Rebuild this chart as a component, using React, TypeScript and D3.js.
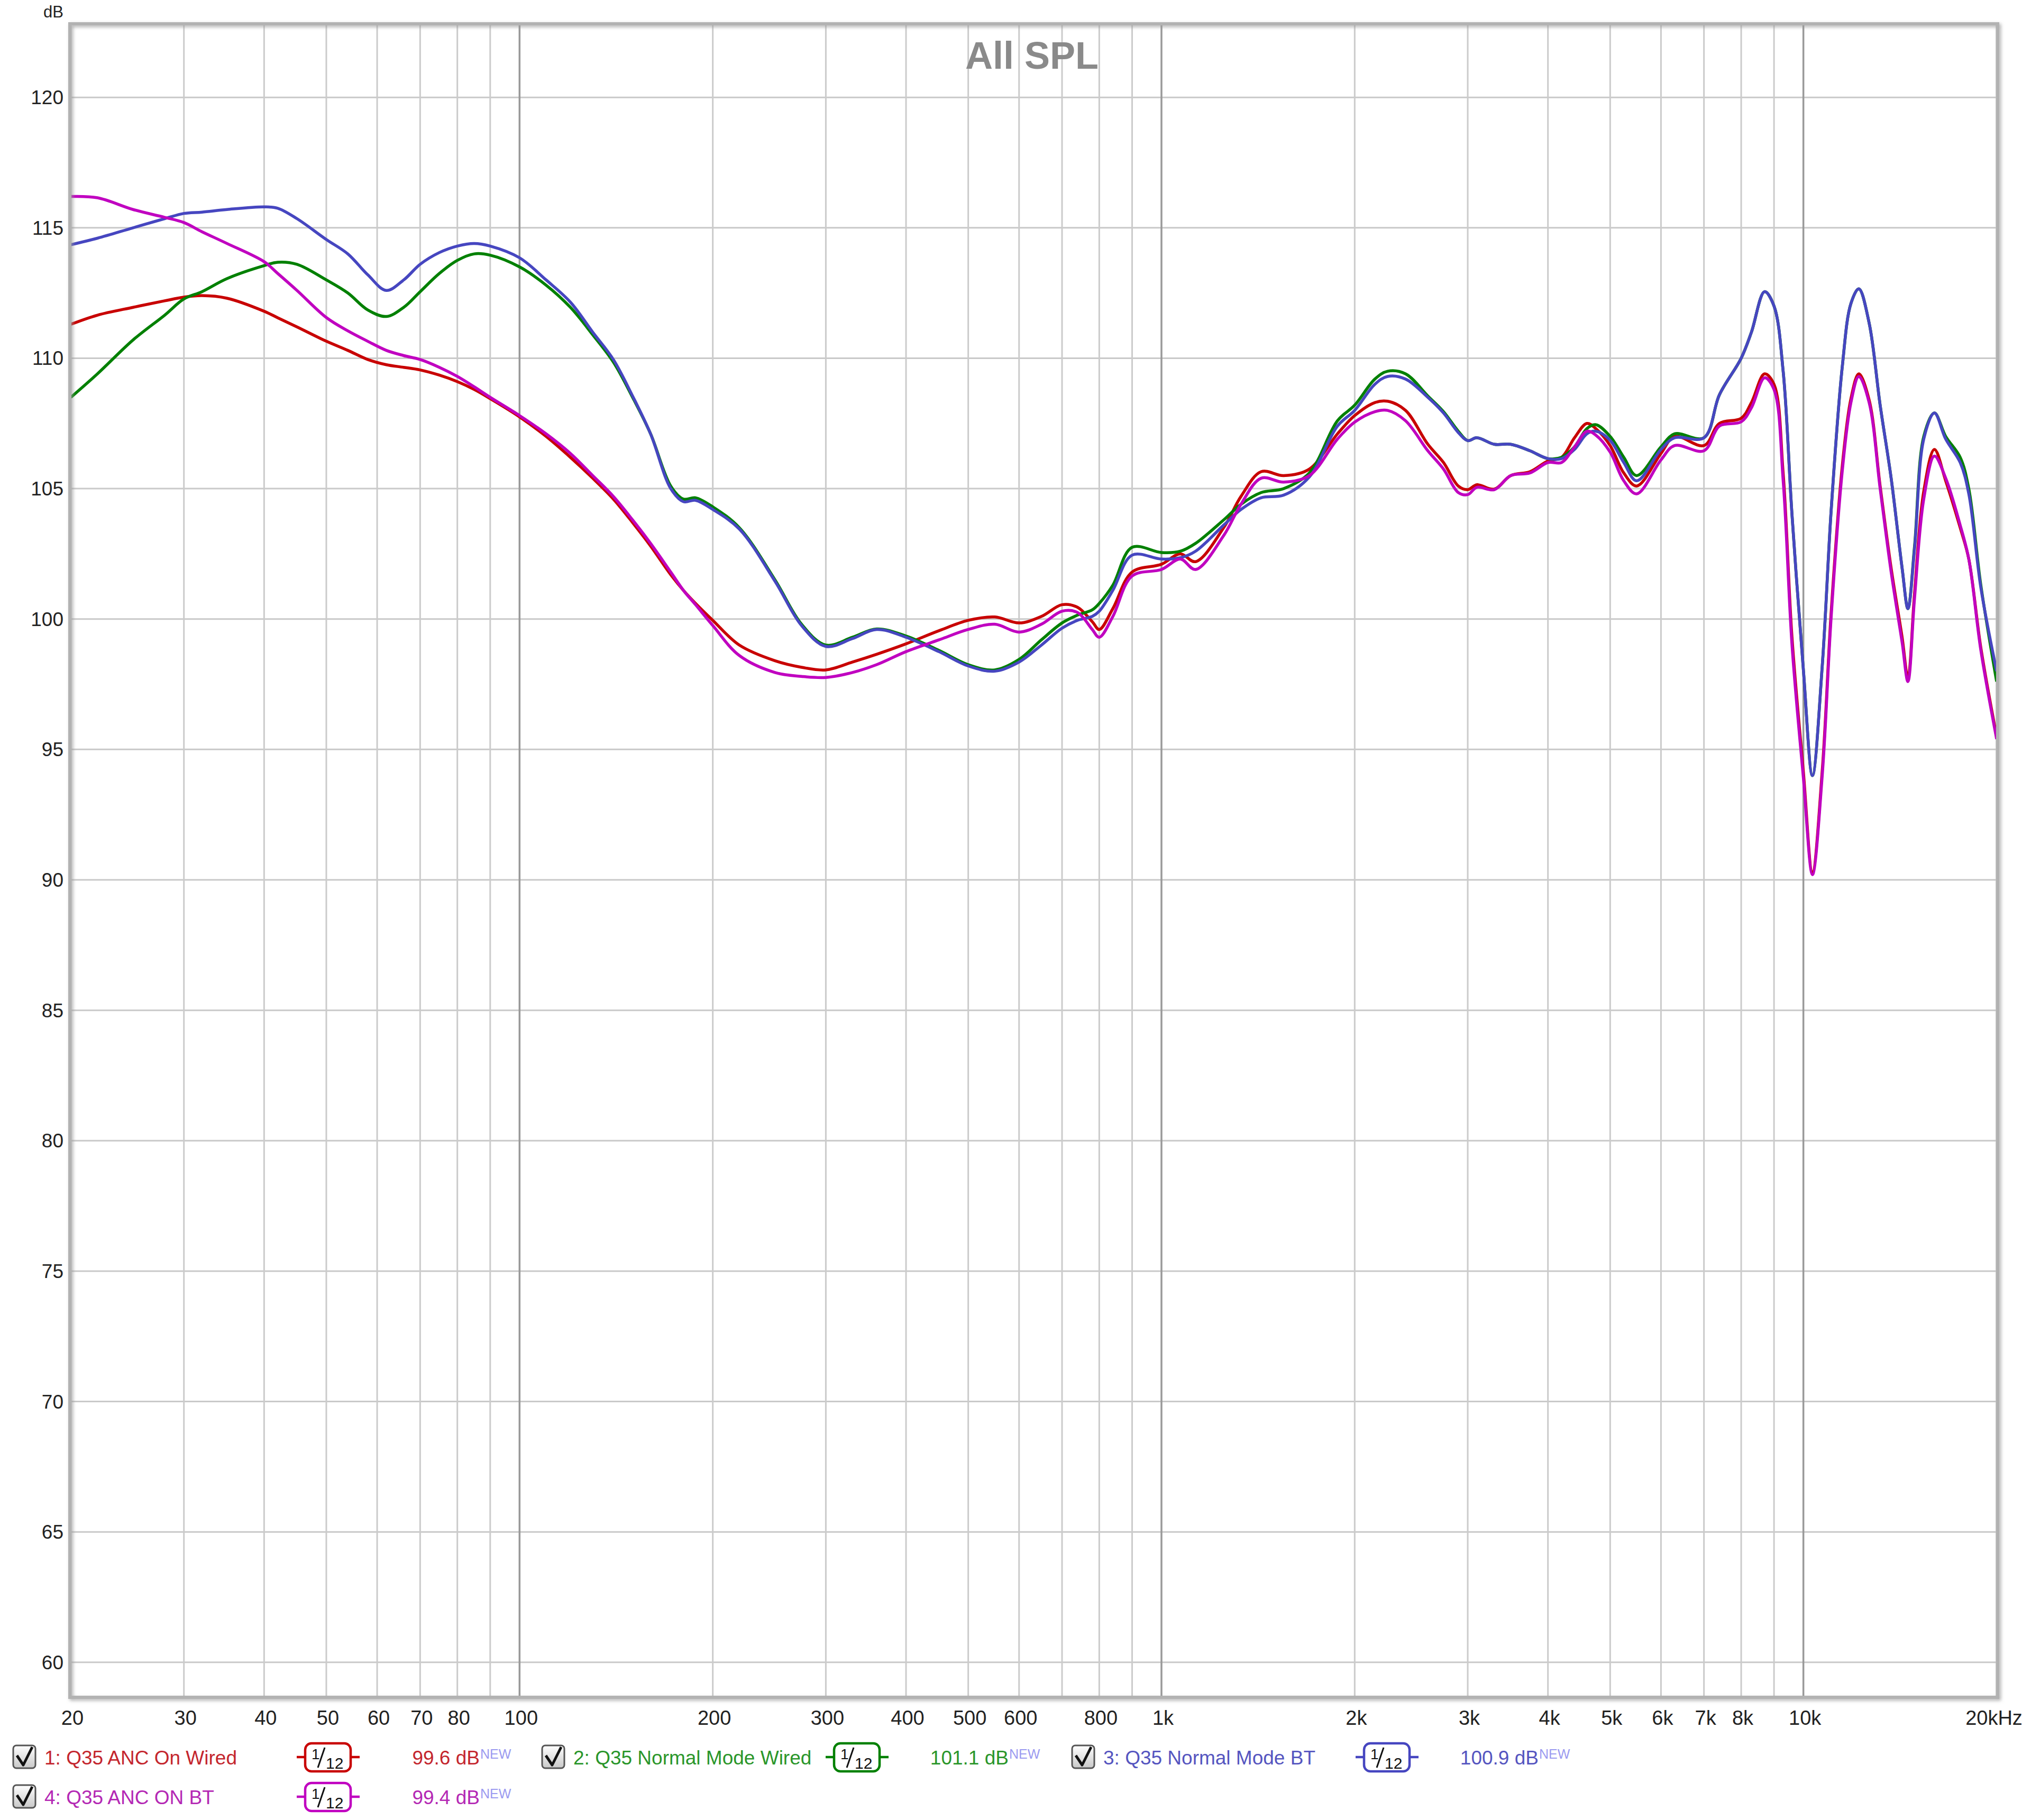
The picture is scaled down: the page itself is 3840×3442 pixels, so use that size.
import React from "react";
import * as d3 from "d3";

// ---------- DATA ----------
const freqs = [20,22,25,28,30,32,35,40,42,45,50,54,58,62,66,70,75,80,85,90,100,110,120,130,140,150,160,172,180,188,200,220,250,275,300,330,360,400,450,500,550,600,650,700,740,780,800,840,900,1000,1070,1130,1250,1330,1430,1550,1700,1880,2000,2150,2250,2400,2600,2750,2900,3000,3100,3300,3500,3750,4000,4200,4400,4600,4750,5000,5250,5500,6000,6300,7000,7400,8000,8300,8700,9000,9300,9600,10000,10330,10700,11050,11500,11860,12200,12660,13170,13700,14250,14550,14900,15400,16000,16660,17550,18100,18900,20000];

const ancOnWired = [111.3,111.65,111.95,112.2,112.34,112.4,112.3,111.8,111.55,111.2,
110.65,110.3,109.95,109.75,109.65,109.55,109.35,109.1,108.8,108.45,
107.75,107.0,106.2,105.4,104.6,103.7,102.8,101.7,101.1,100.6,
99.95,99.0,98.4,98.15,98.05,98.35,98.65,99.05,99.55,99.95,
100.08,99.85,100.1,100.55,100.45,99.9,99.6,100.4,101.8,102.1,
102.5,102.2,103.5,104.7,105.65,105.5,105.75,107.1,107.8,108.3,
108.35,108.0,106.7,106.0,105.1,104.96,105.15,104.98,105.5,105.65,
106.06,106.2,106.95,107.5,107.3,106.65,105.6,105.1,106.35,107.0,
106.65,107.5,107.7,108.3,109.4,109.0,105.6,99.3,94.14,90.3,
94.2,100.3,105.9,108.45,109.4,108.4,105.1,101.95,99.3,97.75,
101.0,104.9,106.5,105.3,103.5,102.3,98.9,95.5];

const normalWired = [108.5,109.4,110.7,111.65,112.27,112.55,113.05,113.55,113.68,113.6,
113.0,112.5,111.85,111.6,111.95,112.55,113.25,113.75,114.0,113.95,
113.5,112.8,111.95,110.9,109.85,108.5,107.1,105.1,104.6,104.65,
104.3,103.5,101.5,99.8,99.0,99.3,99.62,99.35,98.8,98.25,
98.05,98.45,99.2,99.85,100.15,100.35,100.6,101.3,102.75,102.55,
102.6,102.9,103.8,104.4,104.85,105.0,105.6,107.6,108.2,109.2,
109.5,109.4,108.55,107.95,107.2,106.84,106.95,106.7,106.7,106.45,
106.15,106.2,106.6,107.3,107.45,107.0,106.2,105.5,106.6,107.1,
106.95,108.6,110.0,111.0,112.55,112.0,109.5,104.0,98.05,94.0,
98.2,104.2,109.7,112.1,112.66,111.35,108.2,105.4,101.95,100.4,
102.8,107.0,107.9,107.0,106.2,105.0,101.3,97.6];

const normalBT = [114.35,114.6,115.0,115.35,115.55,115.6,115.7,115.8,115.75,115.35,
114.55,114.0,113.2,112.6,113.0,113.6,114.05,114.3,114.4,114.3,
113.85,113.0,112.15,111.0,109.95,108.55,107.1,105.0,104.5,104.55,
104.2,103.45,101.45,99.75,98.95,99.25,99.6,99.3,98.75,98.2,
98.0,98.35,99.0,99.65,99.95,100.1,100.3,101.1,102.45,102.3,
102.35,102.6,103.6,104.2,104.65,104.75,105.45,107.4,108.0,109.0,
109.3,109.2,108.5,107.9,107.15,106.84,106.95,106.7,106.7,106.45,
106.15,106.15,106.5,107.1,107.2,106.85,106.0,105.3,106.5,106.95,
106.95,108.6,110.0,111.0,112.55,112.0,109.5,104.0,98.05,94.0,
98.2,104.2,109.7,112.1,112.66,111.35,108.2,105.4,101.95,100.4,
102.7,106.9,107.9,106.9,106.0,104.8,101.2,98.0];

const ancOnBT = [116.2,116.15,115.7,115.4,115.2,114.85,114.4,113.7,113.25,112.6,
111.56,111.05,110.65,110.3,110.1,109.95,109.65,109.3,108.9,108.5,
107.8,107.1,106.35,105.5,104.7,103.8,102.9,101.8,101.1,100.55,
99.75,98.6,97.95,97.8,97.76,97.95,98.25,98.75,99.2,99.6,
99.8,99.5,99.8,100.3,100.25,99.6,99.3,100.1,101.65,101.9,
102.3,101.9,103.2,104.4,105.4,105.25,105.5,106.9,107.55,107.95,
108.0,107.6,106.45,105.75,104.85,104.77,105.05,104.96,105.5,105.6,
106.0,106.0,106.6,107.2,107.05,106.4,105.3,104.8,106.1,106.65,
106.45,107.4,107.56,108.1,109.25,108.8,105.3,99.0,93.9,90.2,
94.0,100.1,105.7,108.3,109.3,108.3,105.0,101.8,99.1,97.6,
100.8,104.6,106.25,105.4,103.6,102.3,98.8,95.4];

const seriesNames = ["1: Q35 ANC On Wired", "2: Q35 Normal Mode Wired", "3: Q35 Normal Mode BT", "4: Q35 ANC ON BT"];
const seriesValues = [ancOnWired, normalWired, normalBT, ancOnBT];
const seriesLevels = ["99.6 dB", "101.1 dB", "100.9 dB", "99.4 dB"];
const lineColors = ["#c80000", "#008000", "#4646c0", "#c000c0"];
const textColors = ["#c4262e", "#2a962a", "#5555c0", "#b428b4"];

const xTickValues = [20,30,40,50,60,70,80,100,200,300,400,500,600,800,1000,2000,3000,4000,5000,6000,7000,8000,10000,20000];
const xTickLabels = ["20","30","40","50","60","70","80","100","200","300","400","500","600","800","1k","2k","3k","4k","5k","6k","7k","8k","10k","20kHz"];
const yTickValues = [60,65,70,75,80,85,90,95,100,105,110,115,120];
const title = "All SPL";
const yUnit = "dB";

// ---------- LAYOUT ----------
const W = 3840, H = 3442;
const L = 134, R = 3775, T = 47, B = 3208;
const FONT = "'Liberation Sans', Arial, Helvetica, sans-serif";

export default function App() {
  const x = d3.scaleLog().domain([20, 20000]).range([L, R]);
  const y = d3.scaleLinear().domain([58.7, 122.78]).range([B, T]);

  const gridX: number[] = [];
  [10, 100, 1000, 10000].forEach((d) => {
    for (let m = 1; m <= 9; m++) {
      const v = d * m;
      if (v >= 20 && v <= 20000) gridX.push(v);
    }
  });
  gridX.push(20000);
  const isMajor = (v: number) => v === 100 || v === 1000 || v === 10000;

  const line = d3
    .line<number>()
    .x((_, i) => x(freqs[i]))
    .y((v) => y(v))
    .curve(d3.curveCatmullRom.alpha(0.5));

  const rowY = [3323, 3398];
  const colX = [0, 1000, 2002];

  return (
    <svg
      width={W}
      height={H}
      style={{ position: "absolute", left: 0, top: 0, background: "#fff" }}
      fontFamily={FONT}
    >
      <defs>
        <clipPath id="plotClip">
          <rect x={L} y={T} width={R - L} height={B - T} />
        </clipPath>
        <filter id="frameShadow" x="-5%" y="-5%" width="110%" height="110%">
          <feDropShadow dx="3" dy="3" stdDeviation="3" floodColor="#9a9a9a" floodOpacity="0.8" />
        </filter>
        <linearGradient id="cbGrad" x1="0" y1="0" x2="0" y2="1">
          <stop offset="0" stopColor="#ffffff" />
          <stop offset="1" stopColor="#c8c8c8" />
        </linearGradient>
      </defs>

      <rect x={0} y={0} width={W} height={H} fill="#fff" />

      {/* horizontal grid */}
      {yTickValues.map((v) => (
        <line key={"gy" + v} x1={L} x2={R} y1={y(v)} y2={y(v)} stroke="#c9c9c9" strokeWidth={3} />
      ))}
      {/* vertical grid */}
      {gridX.map((v) => (
        <line
          key={"gx" + v}
          x1={x(v)}
          x2={x(v)}
          y1={T}
          y2={B}
          stroke={isMajor(v) ? "#999999" : "#cbcbcb"}
          strokeWidth={isMajor(v) ? 3.5 : 3}
        />
      ))}

      {/* title */}
      <text x={1951} y={130} textAnchor="middle" fontSize={72} fontWeight="bold" fill="#8a8a8a">
        {title}
      </text>

      {/* curves */}
      <g clipPath="url(#plotClip)">
        {seriesValues.map((vals, i) => (
          <path
            key={"s" + i}
            d={line(vals) || ""}
            fill="none"
            stroke={lineColors[i]}
            strokeWidth={5.5}
            strokeLinejoin="round"
          />
        ))}
      </g>

      {/* frame */}
      <rect
        x={L - 2}
        y={T - 2}
        width={R - L + 4}
        height={B - T + 4}
        fill="none"
        stroke="#b2b2b2"
        strokeWidth={6}
        filter="url(#frameShadow)"
      />

      {/* y axis labels */}
      <text x={120} y={33} textAnchor="end" fontSize={31} fill="#222">
        {yUnit}
      </text>
      {yTickValues.map((v) => (
        <text key={"yl" + v} x={120} y={y(v) + 13} textAnchor="end" fontSize={37} fill="#222">
          {v}
        </text>
      ))}

      {/* x axis labels */}
      {xTickValues.map((v, i) => (
        <text
          key={"xl" + v}
          x={i === xTickValues.length - 1 ? x(v) - 5 : x(v) + 3}
          y={3262}
          textAnchor="middle"
          fontSize={38}
          fill="#222"
        >
          {xTickLabels[i]}
        </text>
      ))}

      {/* legend */}
      {seriesNames.map((name, i) => {
        const cx = colX[i % 3];
        const cy = rowY[Math.floor(i / 3)];
        return (
          <g key={"lg" + i}>
            <rect x={cx + 25} y={cy - 22} width={42} height={43} rx={6} fill="url(#cbGrad)" stroke="#555" strokeWidth={3} />
            <path
              d={`M ${cx + 32} ${cy - 3} L ${cx + 44} ${cy + 15} L ${cx + 61} ${cy - 19}`}
              fill="none"
              stroke="#111"
              strokeWidth={5}
              strokeLinejoin="round"
            />
            <text x={cx + 84} y={cy + 14} fontSize={37} fill={textColors[i]}>
              {name}
            </text>
            <line x1={cx + 561} x2={cx + 680} y1={cy} y2={cy} stroke={lineColors[i]} strokeWidth={4.5} />
            <rect x={cx + 577} y={cy - 26} width={86} height={53} rx={12} fill="#fff" stroke={lineColors[i]} strokeWidth={4.5} />
            <text x={cx + 589} y={cy + 4} fontSize={28} fill="#111">1</text>
            <line x1={cx + 601} y1={cy + 20} x2={cx + 614} y2={cy - 18} stroke="#111" strokeWidth={3} />
            <text x={cx + 616} y={cy + 22} fontSize={30} fill="#111">12</text>
            <text x={cx + 907} y={cy + 14} textAnchor="end" fontSize={37} fill={textColors[i]}>
              {seriesLevels[i]}
            </text>
            <text x={cx + 908} y={cy + 3} fontSize={25} fill="#9a9af0">
              NEW
            </text>
          </g>
        );
      })}
    </svg>
  );
}
